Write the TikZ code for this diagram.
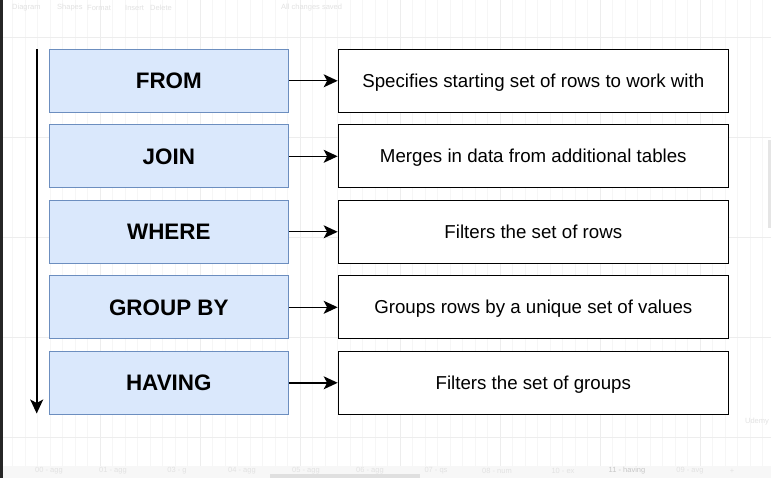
\documentclass[tikz,border=0pt]{standalone}
\usepackage{fontspec}
\setmainfont{Liberation Sans}
\usetikzlibrary{arrows.meta}
\definecolor{bluefill}{HTML}{DAE8FC}
\definecolor{bluedraw}{HTML}{6C8EBF}
\definecolor{gridminor}{HTML}{F6F6F6}
\definecolor{gridmajor}{HTML}{EDEDED}
\definecolor{chrome}{HTML}{E2E2E2}
\begin{document}
\begin{tikzpicture}[x=1pt,y=-1pt,
  clause/.style={draw=bluedraw,fill=bluefill,line width=1.2pt,minimum width=239pt,minimum height=63pt,inner sep=0pt,
    text height=16pt,text depth=0pt,font=\fontsize{22.4}{26}\selectfont\bfseries},
  desc/.style={draw=black,fill=white,line width=1.3pt,minimum width=390pt,minimum height=63pt,inner sep=0pt,
    text height=13.4pt,text depth=0pt,font=\fontsize{18.7}{22}\selectfont},
  tip/.style={-{Stealth[length=14pt,width=13pt,inset=3.5pt]}},
  link/.style={line width=1.4pt,tip},
  ui/.style={text=chrome,font=\fontsize{7.5}{9}\selectfont,inner sep=0pt}]
\useasboundingbox (0,0) rectangle (771,478);
\fill[white] (0,0) rectangle (771,478);
% grid
\draw[gridminor,line width=0.5pt] (0,0) grid[step=12.5] (771,478);
\foreach \gx in {100,200,...,700} \draw[gridmajor,line width=0.6pt] (\gx,0) -- (\gx,466);
\foreach \gy in {37.5,137.5,237.5,337.5,437.5} \draw[gridmajor,line width=0.6pt] (0,\gy) -- (771,\gy);
% window chrome
\fill[black!85] (0,0) rectangle (2.8,478);
\fill[black!3] (2.8,466) rectangle (771,478);
\fill[black!12] (270,474) rectangle (420,478);
\fill[black!10] (767.5,140) rectangle (771,228);
\node[ui,anchor=west] (tb1) at (12,8) {Diagram};
\node[ui,anchor=west] (tb2) at (57,8) {Shapes};
\node[ui,anchor=west] (tb3) at (87,8) {Format};
\node[ui,anchor=west] (tb4) at (125,8) {Insert};
\node[ui,anchor=west] (tb5) at (150,8) {Delete};
\node[ui,anchor=west] (tb6) at (281,8) {All changes saved};
\node[ui] (wm) at (757,422) {Udemy};
\node[ui] (p0) at (49,471) {00 - agg};
\node[ui] (p1) at (113,471) {01 - agg};
\node[ui] (p2) at (177,471) {03 - g};
\node[ui] (p3) at (242,471) {04 - agg};
\node[ui] (p4) at (306,471) {05 - agg};
\node[ui] (p5) at (370,471) {06 - agg};
\node[ui] (p6) at (436,471) {07 - qs};
\node[ui] (p7) at (497,471) {08 - num};
\node[ui] (p8) at (563,471) {10 - ex};
\node[ui,text=black!22] (p9) at (627,471) {11 - having};
\node[ui] (p10) at (690,471) {09 - avg};
\node[ui] (p11) at (732,471) {+};
% flow line
\coordinate (ftop) at (36.7,49.3);
\coordinate (fbot) at (36.7,413.5);
\draw[line width=1.6pt,tip] (ftop) -- (fbot);
% clauses
\node[clause] (c1) at (168.8,80.8) {FROM};
\node[clause] (c2) at (168.8,156.3) {JOIN};
\node[clause] (c3) at (168.8,231.8) {WHERE};
\node[clause] (c4) at (168.8,307.3) {GROUP BY};
\node[clause] (c5) at (168.8,382.8) {HAVING};
\node[desc] (d1) at (533.3,80.8) {Specifies starting set of rows to work with};
\node[desc] (d2) at (533.3,156.3) {Merges in data from additional tables};
\node[desc] (d3) at (533.3,231.8) {Filters the set of rows};
\node[desc] (d4) at (533.3,307.3) {Groups rows by a unique set of values};
\node[desc] (d5) at (533.3,382.8) {Filters the set of groups};
\foreach \i in {1,...,5} \draw[link] (c\i.east) -- (d\i.west);
\end{tikzpicture}
\end{document}
